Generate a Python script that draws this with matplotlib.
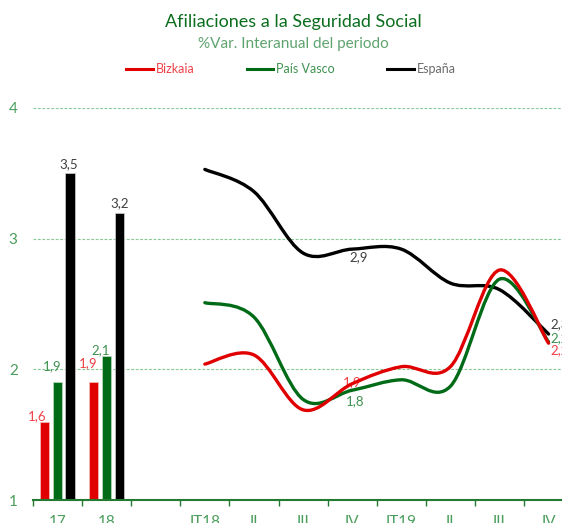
import numpy as np
import matplotlib
matplotlib.use("Agg")
import matplotlib.pyplot as plt
from matplotlib.path import Path
from matplotlib.patches import PathPatch
from matplotlib.lines import Line2D

plt.rcParams['font.family'] = ['Lato', 'DejaVu Sans']

# datos
categories = ["17", "18", "", "IT18", "II", "III", "IV", "IT19", "II", "III", "IV"]

bar_years = ["17", "18"]
bar_bizkaia = [1.6, 1.9]
bar_pv = [1.9, 2.1]
bar_espana = [3.5, 3.2]

quarters = ["IT18", "II", "III", "IV", "IT19", "II", "III", "IV"]
q_bizkaia = [2.04, 2.11, 1.69, 1.89, 2.02, 2.02, 2.76, 2.20]
q_pv = [2.51, 2.40, 1.77, 1.84, 1.92, 1.87, 2.69, 2.21]
q_espana = [3.53, 3.36, 2.89, 2.92, 2.92, 2.66, 2.61, 2.27]

RED = "#e00000"
GREEN = "#006b17"
BLACK = "#000000"
RED_TXT = "#ee4148"
GREEN_TXT = "#3f9150"
BLACK_TXT = "#404040"
AXIS_GREEN = "#237a33"
TICK_TXT = "#4a9d5c"


def fmt(v):
    return f"{v:.1f}".replace(".", ",")


def smooth_path(xs, ys):
    # curva suavizada tipo Excel (bezier con puntos de control catmull-rom)
    pts = np.column_stack([xs, ys]).astype(float)
    n = len(pts)
    verts = [pts[0]]
    codes = [Path.MOVETO]
    for i in range(n - 1):
        p0 = pts[max(i - 1, 0)]
        p1 = pts[i]
        p2 = pts[i + 1]
        p3 = pts[min(i + 2, n - 1)]
        verts += [p1 + (p2 - p0) / 6, p2 - (p3 - p1) / 6, p2]
        codes += [Path.CURVE4] * 3
    return Path(verts, codes)


fig = plt.figure(figsize=(5.62, 5.23), dpi=100)
ax = fig.add_axes([33 / 562, 23 / 523, 529 / 562, 392 / 523])

ax.set_ylim(1, 4)
ax.set_xlim(-0.5, 529 / 49.1 - 0.5)

# barras anuales
bx = np.arange(len(bar_years))
w = 0.19
ax.bar(bx - 0.265, bar_bizkaia, w, color=RED, edgecolor="#f3c0c0", lw=0.5, zorder=3)
ax.bar(bx, bar_pv, w, color=GREEN, edgecolor="#c0dcc4", lw=0.5, zorder=3)
ax.bar(bx + 0.255, bar_espana, w, color=BLACK, edgecolor="#d0d0d0", lw=0.5, zorder=3)

# etiquetas de las barras (desplazamiento en puntos)
bar_lbl = [
    (bx - 0.265, bar_bizkaia, RED_TXT, [(-5, 4), (-4, 14)]),
    (bx, bar_pv, GREEN_TXT, [(-4, 12), (-4, 4.5)]),
    (bx + 0.255, bar_espana, BLACK_TXT, [(-1, 6.5), (0, 6.5)]),
]
for xs, vals, col, offs in bar_lbl:
    for x, v, (dx, dy) in zip(xs, vals, offs):
        ax.annotate(fmt(v), (x, v), xytext=(dx, dy), textcoords="offset points",
                    ha="center", va="center", fontsize=9.5, color=col)

# lineas trimestrales
qx = np.arange(len(quarters)) + categories.index("IT18")
for vals, col in [(q_espana, BLACK), (q_pv, GREEN), (q_bizkaia, RED)]:
    ax.add_patch(PathPatch(smooth_path(qx, vals), facecolor="none", edgecolor=col,
                           lw=2.4, capstyle="round", joinstyle="round", zorder=4))

# etiquetas de las lineas
i4 = quarters.index("IV")
ax.annotate(fmt(q_espana[i4]), (qx[i4], q_espana[i4]), xytext=(4.5, -6),
            textcoords="offset points", ha="center", va="center", fontsize=9.5, color=BLACK_TXT)
ax.annotate(fmt(q_bizkaia[i4]), (qx[i4], q_bizkaia[i4]), xytext=(0, 1),
            textcoords="offset points", ha="center", va="center", fontsize=9.5, color=RED_TXT)
ax.annotate(fmt(q_pv[i4]), (qx[i4], q_pv[i4]), xytext=(2, -8),
            textcoords="offset points", ha="center", va="center", fontsize=9.5, color=GREEN_TXT)
for vals, col, dy in [(q_espana, BLACK_TXT, 7), (q_pv, GREEN_TXT, 3), (q_bizkaia, RED_TXT, -5)]:
    ax.annotate(fmt(vals[-1]), (qx[-1], vals[-1]), xytext=(1.5, dy),
                textcoords="offset points", ha="left", va="center", fontsize=9.5, color=col)

# ejes
for s in ["top", "right", "left"]:
    ax.spines[s].set_visible(False)
ax.spines["bottom"].set_color(AXIS_GREEN)
ax.spines["bottom"].set_linewidth(1.5)
ax.spines["bottom"].set_zorder(5)

ax.set_yticks([1, 2, 3, 4])
ax.set_yticklabels(["1", "2", "3", "4"])
ax.tick_params(axis="y", length=0, pad=11, labelsize=11, labelcolor=TICK_TXT)
ax.yaxis.grid(True, color="#5fb56f", alpha=0.75, lw=0.8, linestyle=(0, (2.5, 1.5)))
ax.set_axisbelow(True)

ax.set_xticks(np.arange(len(categories)) - 0.5)
ax.set_xticklabels([])
ax.set_xticks(np.arange(len(categories)), minor=True)
ax.set_xticklabels(categories, minor=True)
ax.tick_params(axis="x", which="major", length=4, width=1, color=AXIS_GREEN, direction="out")
ax.tick_params(axis="x", which="minor", length=0, pad=11, labelsize=11, labelcolor=TICK_TXT)

# titulos
fig.text(293 / 562, 1 - 22 / 523, "Afiliaciones a la Seguridad Social", ha="center", va="center",
         fontsize=13, color="#0b6e1f")
fig.text(293 / 562, 1 - 44 / 523, "%Var. Interanual del periodo", ha="center", va="center",
         fontsize=11, color="#5fa36e")

handles = [Line2D([], [], color=RED, lw=2.2),
           Line2D([], [], color=GREEN, lw=2.2),
           Line2D([], [], color=BLACK, lw=2.2)]
leg = fig.legend(handles, ["Bizkaia", "País Vasco", "España"], loc="center",
                 bbox_to_anchor=(291 / 562, 1 - 69 / 523), ncol=3, frameon=False,
                 fontsize=9, handlelength=2.1, handletextpad=0.25, columnspacing=4.2)
for t, c in zip(leg.get_texts(), [RED_TXT, GREEN_TXT, "#6b6b6b"]):
    t.set_color(c)

fig.savefig("out.png", dpi=100)
